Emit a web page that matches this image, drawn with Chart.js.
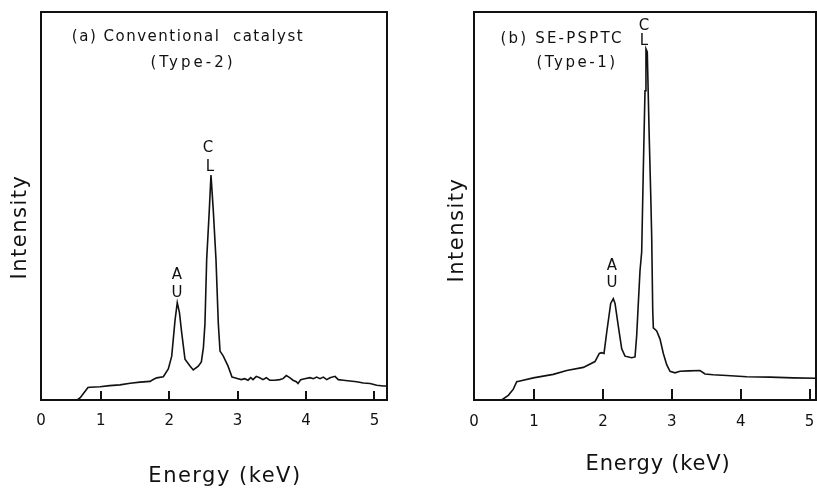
<!DOCTYPE html>
<html>
<head>
<meta charset="utf-8">
<script src="https://cdn.jsdelivr.net/npm/chart.js@4"></script>
<style>
html, body { margin: 0; padding: 0; background: #fff; }
#wrap { position: relative; width: 817px; height: 488px; overflow: hidden; }
canvas { position: absolute; top: 0; }
#chartA { left: 0; }
#chartB { left: 410px; }
</style>
</head>
<body>
<div id="wrap">
  <canvas id="chartA" width="410" height="488"></canvas>
  <canvas id="chartB" width="407" height="488"></canvas>
</div>
<script>
// (a) conventional catalyst, Type-2
const energyA = [0.13, 0.656, 0.70, 0.76, 0.813, 0.84, 0.99, 1.13, 1.28, 1.43, 1.573, 1.72, 1.76, 1.817, 1.914,
  1.987, 2.037, 2.085, 2.118, 2.15, 2.183, 2.231, 2.304, 2.352, 2.425, 2.47, 2.50, 2.523, 2.548, 2.586, 2.611,
  2.645, 2.684, 2.718, 2.743, 2.791, 2.859, 2.918, 2.958, 3.006, 3.054, 3.104, 3.152, 3.192, 3.225, 3.273, 3.323,
  3.371, 3.42, 3.469, 3.542, 3.616, 3.664, 3.712, 3.762, 3.81, 3.858, 3.883, 3.923, 3.981, 4.058, 4.107, 4.156,
  4.205, 4.253, 4.303, 4.351, 4.424, 4.472, 4.545, 4.643, 4.741, 4.838, 4.936, 5.034, 5.13, 5.203]
const intensityA = [0, 0, 0.6, 2.0, 3.2, 3.3, 3.4, 3.7, 3.9, 4.3, 4.6, 4.8, 5.2, 5.7, 6.0,
  8.0, 11.3, 20.5, 25.1, 22.5, 17.3, 10.5, 8.75, 7.75, 8.7, 9.8, 13.5, 19.75, 36.25, 48.8, 58,
  48.75, 36.25, 19.75, 12.6, 11.3, 8.8, 5.9, 5.75, 5.5, 5.25, 5.5, 5.1, 5.75, 5.25, 6.1, 5.75,
  5.25, 5.75, 5.1, 5.1, 5.25, 5.5, 6.3, 5.75, 5.1, 4.7, 4.25, 5.25, 5.5, 5.75, 5.5, 5.9,
  5.5, 5.9, 5.25, 5.75, 6.1, 5.25, 5.1, 4.9, 4.7, 4.4, 4.25, 3.8, 3.6, 3.6]

// (b) SE-PSPTC, Type-1
const energyB = [0.13, 0.53, 0.627, 0.70, 0.749, 0.797, 0.99, 1.28, 1.475, 1.716, 1.885, 1.948, 1.98, 2.016,
  2.055, 2.113, 2.151, 2.176, 2.224, 2.273, 2.321, 2.418, 2.466, 2.49, 2.514, 2.538, 2.563, 2.586, 2.611,
  2.625, 2.644, 2.673, 2.694, 2.708, 2.723, 2.732, 2.781, 2.829, 2.877, 2.926, 2.974, 3.046, 3.119, 3.25,
  3.409, 3.482, 3.6, 3.797, 4.087, 4.425, 4.763, 5.1]
const intensityB = [0, 0, 1.2, 2.8, 4.7, 4.9, 5.7, 6.6, 7.6, 8.4, 9.9, 12.0, 12.2, 12.0,
  17.4, 24.9, 26.1, 24.9, 19.0, 13.2, 11.3, 10.9, 11.1, 16.5, 24.9, 33.2, 38.2, 58.9, 79.7,
  90.5, 89.7, 67.3, 53.1, 42.3, 23.2, 18.6, 17.8, 15.7, 12.0, 9.1, 7.4, 7.0, 7.4, 7.5,
  7.6, 6.7, 6.5, 6.3, 6.0, 5.9, 5.7, 5.6]

const tickValues = [1, 2, 3, 4, 5]
const tickLabels = ['0', '1', '2', '3', '4', '5']

const ink = '#111'
const font = '"DejaVu Sans", sans-serif'

const decor = {
  id: 'decor',
  afterDraw(chart, args, opts) {
    const ctx = chart.ctx
    const area = chart.chartArea
    const xs = chart.scales.x
    const ys = chart.scales.y
    ctx.save()
    ctx.strokeStyle = ink
    ctx.lineWidth = 2
    ctx.strokeRect(area.left, area.top, area.right - area.left, area.bottom - area.top)
    tickValues.forEach(v => {
      const px = Math.round(xs.getPixelForValue(v))
      ctx.beginPath()
      ctx.moveTo(px, area.bottom)
      ctx.lineTo(px, area.bottom - opts.tickLen)
      ctx.stroke()
    })
    ctx.fillStyle = ink
    ctx.textAlign = 'center'
    ctx.textBaseline = 'middle'
    opts.texts.forEach(t => {
      ctx.font = t.size + 'px ' + font
      ctx.letterSpacing = (t.spacing || 0) + 'px'
      let px = t.x, py = t.y
      if (t.e !== undefined) {
        px = xs.getPixelForValue(t.e)
        py = ys.getPixelForValue(t.v)
      }
      ctx.save()
      ctx.translate(px, py)
      if (t.rotate) ctx.rotate(-Math.PI / 2)
      ctx.fillText(t.text, 0, 0)
      ctx.restore()
    })
    ctx.restore()
  }
}

function makeChart(id, energy, intensity, cfg) {
  new Chart(document.getElementById(id), {
    type: 'line',
    data: {
      datasets: [{
        data: energy.map((e, i) => ({ x: e, y: intensity[i] })),
        borderColor: ink,
        borderWidth: 1.6,
        pointRadius: 0,
        tension: 0,
        fill: false
      }]
    },
    options: {
      responsive: false,
      animation: false,
      layout: { padding: cfg.padding },
      scales: {
        x: {
          type: 'linear',
          min: cfg.xMin,
          max: cfg.xMax,
          afterBuildTicks: axis => {
            axis.ticks = [{ value: cfg.xMin }].concat(tickValues.map(v => ({ value: v })))
          },
          afterFit: axis => {
            axis.paddingLeft = 0
            axis.paddingRight = 0
          },
          ticks: {
            autoSkip: false,
            maxRotation: 0,
            padding: cfg.tickPad,
            color: ink,
            font: { family: font, size: 15 },
            callback: (value, index) => tickLabels[index]
          },
          grid: { display: false, drawTicks: false },
          border: { display: false }
        },
        y: {
          min: 0,
          max: 100,
          display: false
        }
      },
      plugins: {
        legend: { display: false },
        tooltip: { enabled: false },
        decor: { tickLen: cfg.tickLen, texts: cfg.texts }
      }
    },
    plugins: [decor]
  })
}

makeChart('chartA', energyA, intensityA, {
  xMin: 0.126,
  xMax: 5.184,
  padding: { left: 41, top: 12, right: 23, bottom: 46 },
  tickPad: 12,
  tickLen: 9,
  texts: [
    { text: '(a) Conventional  catalyst', x: 188, y: 37, size: 15, spacing: 1.5 },
    { text: '(Type-2)', x: 193, y: 63, size: 15, spacing: 3 },
    { text: 'Intensity', x: 21, y: 227, size: 21, spacing: 1.5, rotate: true },
    { text: 'Energy (keV)', x: 225, y: 477, size: 21, spacing: 1.5 },
    { text: 'C', e: 2.567, v: 65, size: 15 },
    { text: 'L', e: 2.596, v: 60, size: 15 },
    { text: 'A', e: 2.114, v: 32.25, size: 15 },
    { text: 'U', e: 2.114, v: 27.5, size: 15 }
  ]
})

makeChart('chartB', energyB, intensityB, {
  xMin: 0.129,
  xMax: 5.093,
  padding: { left: 64, top: 12, right: 1, bottom: 44 },
  tickPad: 13,
  tickLen: 11,
  texts: [
    { text: '(b) SE-PSPTC', x: 152, y: 39, size: 15, spacing: 2.2 },
    { text: '(Type-1)', x: 167, y: 63, size: 15, spacing: 2.5 },
    { text: 'Intensity', x: 48, y: 230, size: 21, spacing: 1.5, rotate: true },
    { text: 'Energy (keV)', x: 248, y: 465, size: 21, spacing: 0.8 },
    { text: 'C', e: 2.597, v: 96.3, size: 15 },
    { text: 'L', e: 2.597, v: 92.5, size: 15 },
    { text: 'A', e: 2.132, v: 34.4, size: 15 },
    { text: 'U', e: 2.132, v: 30.2, size: 15 }
  ]
})
</script>
</body>
</html>
